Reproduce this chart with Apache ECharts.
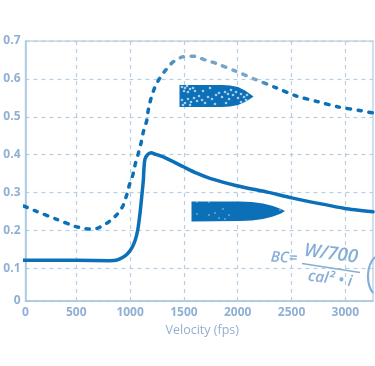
<!DOCTYPE html>
<html>
<head>
<meta charset="utf-8">
<style>
  html, body { margin: 0; padding: 0; background: #fff; }
  #chart { width: 375px; height: 366px; }
</style>
<script src="https://cdn.jsdelivr.net/npm/echarts@6/dist/echarts.min.js"></script>
</head>
<body>
<div id="chart"></div>
<script>
// values
const solidVelocity = [-5, 497, 813, 879, 934, 978, 1015, 1047, 1071, 1092, 1108, 1123, 1129, 1138, 1166, 1201, 1216, 1309, 1495, 1618, 1742, 1991, 2285, 2502, 2997, 3257];
const solidBC = [0.121, 0.121, 0.120, 0.122, 0.129, 0.139, 0.153, 0.174, 0.201, 0.245, 0.289, 0.333, 0.365, 0.388, 0.401, 0.405, 0.403, 0.394, 0.368, 0.351, 0.3375, 0.318, 0.3005, 0.286, 0.258, 0.249];

const dashedVelocity = [14, 116, 311, 497, 602, 695, 788, 875, 932, 968, 993, 1025, 1048, 1076, 1102, 1123, 1154, 1169, 1192, 1223, 1269, 1330, 1396, 1485, 1588, 1687, 1789, 1975, 2161, 2353, 2542, 2740, 2935, 3143, 3257];
const dashedBC = [0.264, 0.252, 0.230, 0.210, 0.204, 0.2055, 0.220, 0.241, 0.264, 0.293, 0.320, 0.346, 0.375, 0.403, 0.431, 0.460, 0.489, 0.518, 0.546, 0.573, 0.599, 0.623, 0.644, 0.658, 0.660, 0.651, 0.642, 0.621, 0.599, 0.577, 0.555, 0.540, 0.526, 0.516, 0.510];

const xTicks = [500, 1000, 1500, 2000, 2500, 3000];
const yTicks = [0.1, 0.2, 0.3, 0.4, 0.5, 0.6, 0.7];

// the first step of both printed scales is squeezed, the axis lines sit inside a true zero
const xLeft = 28;
const xRight = 3257;
const yBottom = 0.0137;

const BLUE = '#0b70b8';
const LABEL = '#8fb0d4';
const GRID = '#b8cfe3';
const INK = '#86aed6';

const zip = (xs, ys) => xs.map((x, i) => [x, ys[i]]);

// speckles on the upper bullet, page pixels
const topSpecks = [
  [182, 87], [185, 88], [187, 86], [190, 89], [193, 88], [184, 91], [188, 92], [195, 91],
  [182, 100], [185, 103], [188, 99], [191, 102], [194, 98], [197, 101], [190, 105], [183, 105],
  [199, 96], [202, 100], [205, 103], [208, 97], [212, 99], [216, 95], [219, 93], [222, 97],
  [225, 92], [228, 94], [231, 90], [233, 95], [236, 92], [229, 99], [238, 98], [241, 94],
  [244, 97], [247, 95], [246, 100], [241, 102], [210, 88], [203, 91], [226, 103], [215, 104]
];
const lowSpecks = [[197, 214], [209, 215], [215, 213], [223, 209], [229, 215], [219, 218], [225, 219], [280, 210], [209, 202], [197, 202]];

const specks = [
  ...topSpecks.map(p => ({
    type: 'circle', silent: true, z: 6,
    shape: { cx: p[0], cy: p[1], r: 1.3 },
    style: { fill: '#a9cbe6' }
  })),
  ...lowSpecks.map(p => ({
    type: 'circle', silent: true, z: 6,
    shape: { cx: p[0], cy: p[1], r: 0.7 },
    style: { fill: '#cfe2f2' }
  }))
];

const formulaText = (text, x, y, size, rot) => ({
  type: 'text', silent: true, z: 6, x: x, y: y, rotation: rot,
  style: {
    text: text,
    fill: INK,
    font: 'italic 600 ' + size + 'px "Open Sans"',
    align: 'center',
    verticalAlign: 'middle'
  }
});

const chart = echarts.init(document.getElementById('chart'));

chart.setOption({
  animation: false,
  backgroundColor: '#fff',
  grid: {
    show: true,
    left: 25.5,
    right: 2,
    top: 41,
    bottom: 65,
    borderColor: '#c4d8ea',
    borderWidth: 1.5
  },
  xAxis: {
    type: 'value',
    min: xLeft,
    max: xRight,
    name: 'Velocity (fps)',
    nameLocation: 'middle',
    nameGap: 22,
    nameTextStyle: { color: '#94afcf', fontFamily: 'Open Sans', fontSize: 12.5, padding: [0, 0, 0, 6] },
    axisLine: { show: true, lineStyle: { color: '#a9c6e0', width: 1.5 } },
    axisTick: { show: true, inside: true, length: 3, customValues: xTicks, lineStyle: { color: GRID } },
    axisLabel: {
      customValues: [xLeft].concat(xTicks),
      formatter: v => (v === xLeft ? '0' : String(v)),
      color: LABEL,
      fontFamily: 'Open Sans',
      fontWeight: 700,
      fontSize: 12,
      margin: 6
    },
    splitLine: { show: true, lineStyle: { color: GRID, type: [4, 4], width: 1.2 } }
  },
  yAxis: {
    type: 'value',
    min: yBottom,
    max: 0.7,
    axisLine: { show: true, lineStyle: { color: '#a9c6e0', width: 1.5 } },
    axisTick: { show: false, customValues: [yBottom].concat(yTicks) },
    axisLabel: {
      customValues: [yBottom].concat(yTicks),
      formatter: v => (v === yBottom ? '0' : v.toFixed(1)),
      color: LABEL,
      fontFamily: 'Open Sans',
      fontWeight: 700,
      fontSize: 12,
      margin: 5
    },
    splitLine: { show: true, lineStyle: { color: GRID, type: [4, 4], width: 1.2 } }
  },
  series: [
    {
      type: 'line',
      data: zip(solidVelocity, solidBC),
      showSymbol: false,
      smooth: 0.2,
      clip: false,
      lineStyle: { color: BLUE, width: 3.5, cap: 'round', join: 'round' },
      z: 4
    },
    {
      type: 'line',
      data: zip(dashedVelocity, dashedBC),
      showSymbol: false,
      smooth: 0.2,
      clip: false,
      lineStyle: {
        width: 3.5,
        cap: 'round',
        type: [3.5, 7.5],
        color: {
          type: 'linear', x: 0, y: 0, x2: 1, y2: 0,
          colorStops: [
            { offset: 0, color: BLUE },
            { offset: 0.38, color: BLUE },
            { offset: 0.45, color: '#6fa0c8' },
            { offset: 0.66, color: '#7ba8cc' },
            { offset: 0.72, color: BLUE },
            { offset: 1, color: BLUE }
          ]
        }
      },
      z: 4
    }
  ],
  graphic: [
    // bullets
    {
      type: 'polygon', silent: true, z: 5,
      shape: { points: [[179.5, 85], [222, 85], [230, 85.5], [238, 87], [245, 90.5], [250, 94], [253.5, 96.5], [250, 99], [245, 102], [238, 105], [230, 106.5], [222, 107], [179.5, 107]] },
      style: { fill: BLUE }
    },
    {
      type: 'polygon', silent: true, z: 5,
      shape: { points: [[191.5, 201.5], [240, 201.5], [252, 202], [263, 203.5], [273, 206], [281, 209], [285, 211], [281, 213.5], [273, 216.5], [263, 219], [252, 220.5], [240, 221], [191.5, 221.5]] },
      style: { fill: BLUE }
    },
    ...specks,
    // formula
    formulaText('BC=', 284, 258, 15, -0.06),
    formulaText('W/700', 331, 254, 18.5, -0.13),
    formulaText('cal\u00B2 \u2022 i', 330, 279, 15.5, -0.13),
    {
      type: 'line', silent: true, z: 6,
      shape: { x1: 302, y1: 263.5, x2: 360, y2: 272.5 },
      style: { stroke: INK, lineWidth: 1.3 }
    },
    {
      type: 'bezierCurve', silent: true, z: 6,
      shape: { x1: 375, y1: 257, cpx1: 366, cpy1: 266, cpx2: 366, cpy2: 284, x2: 373, y2: 293 },
      style: { stroke: INK, fill: 'none', lineWidth: 2.2 }
    }
  ]
});
</script>
</body>
</html>
